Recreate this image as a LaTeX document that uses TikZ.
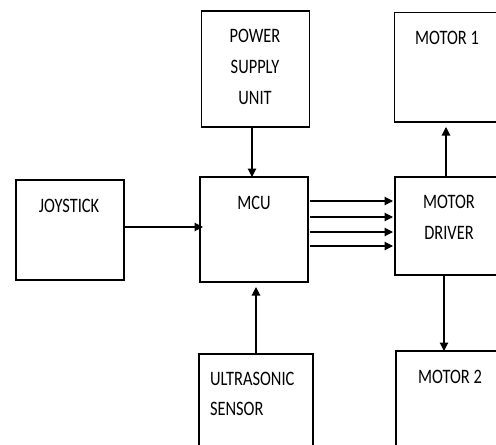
\documentclass[tikz,border=0pt]{standalone}
\usepackage{fontspec}
\setmainfont{Carlito}
\usepackage{graphicx}
\usetikzlibrary{arrows.meta}
\newcommand{\tx}[1]{\scalebox{1}[1.25]{#1}}
\tikzset{
  blk/.style={draw=black, line width=1.1pt, rectangle, inner sep=0pt, outer sep=0pt},
  txt/.style={inner sep=0pt, outer sep=0pt, font=\fontsize{16.4}{18}\selectfont, text=black},
  arr/.style={line width=1.1pt, -{Triangle[length=8.5pt,width=8.5pt]}}
}
\begin{document}
\begin{tikzpicture}[x=1pt,y=-1pt]
\useasboundingbox (0,0) rectangle (496,445);
\clip (0,0) rectangle (496,445);
\fill[white] (0,0) rectangle (496,445);
% boxes
\node[blk, minimum width=108pt, minimum height=116pt] (psu) at (255.5,69) {};
\node[blk, minimum width=115.5pt, minimum height=109.5pt] (m1) at (452.25,67.25) {};
\node[blk, minimum width=108pt, minimum height=100pt] (joy) at (70,230) {};
\node[blk, minimum width=108pt, minimum height=105pt] (mcu) at (254,229.5) {};
\node[blk, minimum width=115pt, minimum height=98pt] (drv) at (452.5,226) {};
\node[blk, minimum width=114pt, minimum height=106pt] (us) at (256,407) {};
\node[blk, minimum width=114pt, minimum height=109pt] (m2) at (453,405.5) {};
% texts
\node[txt, anchor=base] (t1) at (255,42) {\tx{POWER}};
\node[txt, anchor=base] (t2) at (255,73) {\tx{SUPPLY}};
\node[txt, anchor=base] (t3) at (255,104) {\tx{UNIT}};
\node[txt, anchor=base] (t4) at (447,44) {\tx{MOTOR 1}};
\node[txt, anchor=base] (t5) at (69,212) {\tx{JOYSTICK}};
\node[txt, anchor=base] (t6) at (254,209) {\tx{MCU}};
\node[txt, anchor=base] (t7) at (449,208) {\tx{MOTOR}};
\node[txt, anchor=base] (t8) at (449,239) {\tx{DRIVER}};
\node[txt, anchor=base west] (t9) at (210,385) {\tx{ULTRASONIC}};
\node[txt, anchor=base west] (t10) at (210,415) {\tx{SENSOR}};
\node[txt, anchor=base] (t11) at (450,383) {\tx{MOTOR 2}};
% connectors
\draw[arr] ([xshift=-3.5pt]psu.south) -- ([xshift=-2pt]mcu.north);
\draw[arr] ([yshift=3pt]joy.east) -- ([xshift=3pt,yshift=2.5pt]mcu.west);
\draw[arr] (us.north) -- ([xshift=2pt,yshift=-5pt]mcu.south);
\draw[arr] ([xshift=2pt,yshift=28.5pt]mcu.east) -- ([xshift=-2pt,yshift=25pt]drv.west);
\draw[arr] ([xshift=2pt,yshift=12.5pt]mcu.east) -- ([xshift=-2pt,yshift=9pt]drv.west);
\draw[arr] ([xshift=2pt,yshift=-2.5pt]mcu.east) -- ([xshift=-2pt,yshift=-6pt]drv.west);
\draw[arr] ([xshift=2pt,yshift=-16.5pt]mcu.east) -- ([xshift=-2pt,yshift=-20pt]drv.west);
\draw[arr] ([xshift=-6.5pt]drv.north) -- ([xshift=-6.25pt,yshift=-5pt]m1.south);
\draw[arr] ([xshift=-8.5pt]drv.south) -- ([xshift=-9pt]m2.north);
\end{tikzpicture}
\end{document}
